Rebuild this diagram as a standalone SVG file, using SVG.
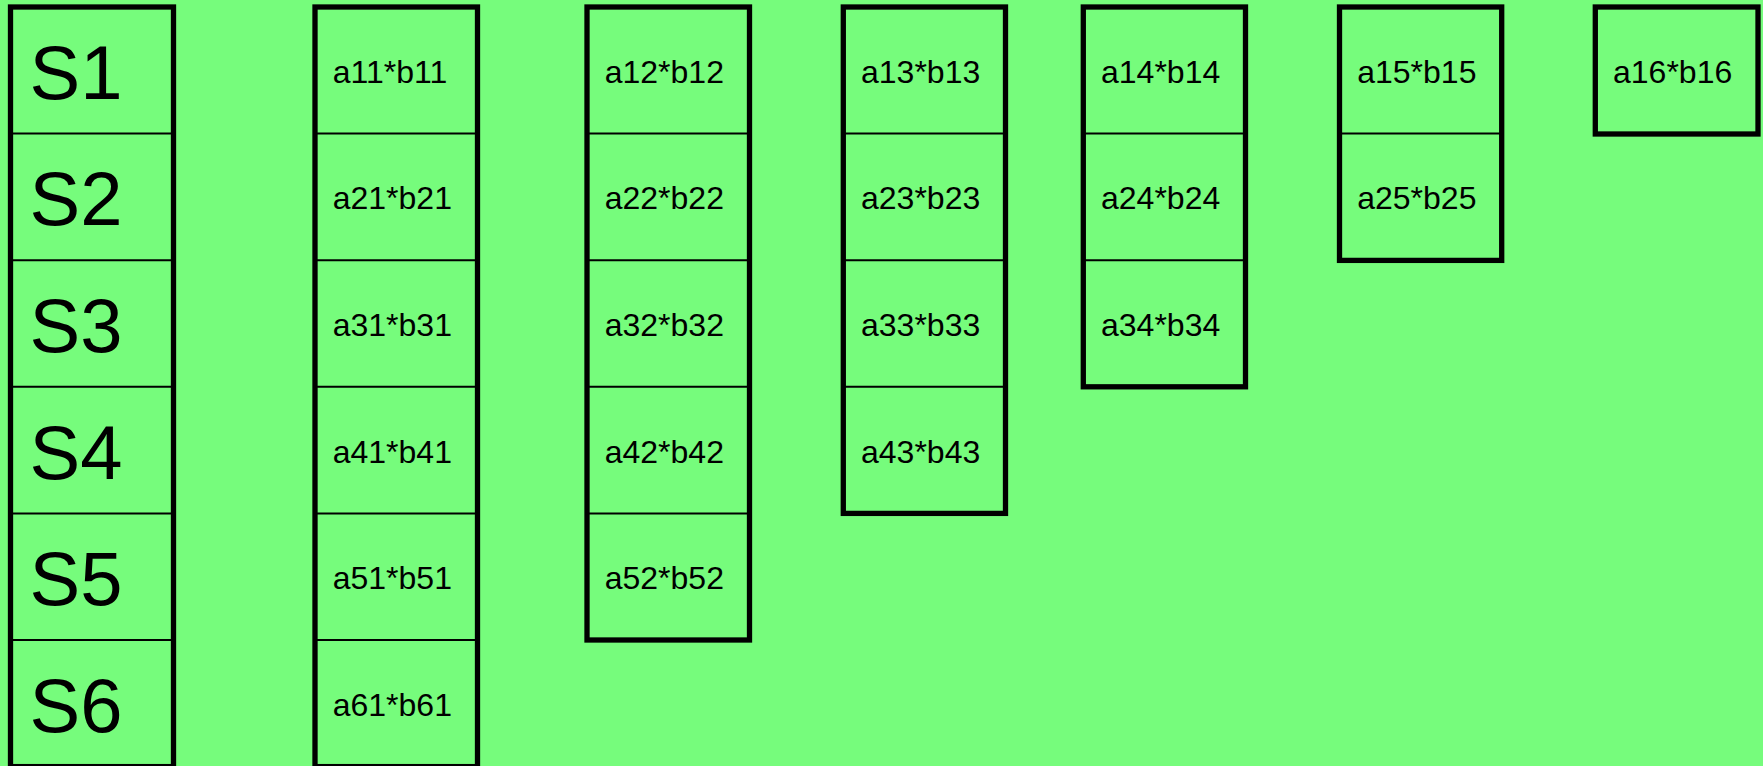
<svg xmlns="http://www.w3.org/2000/svg" width="1763" height="766" viewBox="0 0 1763 766">
<style>
.bg{fill:#76FC7C}
.box{fill:#76FC7C;stroke:#000;stroke-width:5.3}
.div{stroke:#000;stroke-width:2}
.s{font-family:"Liberation Sans",Arial,sans-serif;font-size:76px;fill:#000}
.t{font-family:"Liberation Sans",Arial,sans-serif;font-size:32px;fill:#000}
</style>
<rect class="bg" x="0" y="0" width="1763" height="766"/>
<g id="colS">
<rect class="box" x="10.5" y="7" width="163" height="759.6"/>
<line class="div" x1="10.5" y1="133.6" x2="173.5" y2="133.6"/>
<line class="div" x1="10.5" y1="260.2" x2="173.5" y2="260.2"/>
<line class="div" x1="10.5" y1="386.8" x2="173.5" y2="386.8"/>
<line class="div" x1="10.5" y1="513.4" x2="173.5" y2="513.4"/>
<line class="div" x1="10.5" y1="640" x2="173.5" y2="640"/>
<text class="s" x="29.5" y="98.7">S1</text>
<text class="s" x="29.5" y="225.3">S2</text>
<text class="s" x="29.5" y="351.9">S3</text>
<text class="s" x="29.5" y="478.5">S4</text>
<text class="s" x="29.5" y="605.1">S5</text>
<text class="s" x="29.5" y="731.7">S6</text>
</g>
<g id="col1">
<rect class="box" x="315" y="7" width="162.5" height="759.6"/>
<line class="div" x1="315" y1="133.6" x2="477.5" y2="133.6"/>
<line class="div" x1="315" y1="260.2" x2="477.5" y2="260.2"/>
<line class="div" x1="315" y1="386.8" x2="477.5" y2="386.8"/>
<line class="div" x1="315" y1="513.4" x2="477.5" y2="513.4"/>
<line class="div" x1="315" y1="640" x2="477.5" y2="640"/>
<text class="t" x="332.7" y="82.7">a11*b11</text>
<text class="t" x="332.7" y="209.3">a21*b21</text>
<text class="t" x="332.7" y="335.9">a31*b31</text>
<text class="t" x="332.7" y="462.5">a41*b41</text>
<text class="t" x="332.7" y="589.1">a51*b51</text>
<text class="t" x="332.7" y="715.7">a61*b61</text>
</g>
<g id="col2">
<rect class="box" x="587" y="7" width="162.5" height="633"/>
<line class="div" x1="587" y1="133.6" x2="749.5" y2="133.6"/>
<line class="div" x1="587" y1="260.2" x2="749.5" y2="260.2"/>
<line class="div" x1="587" y1="386.8" x2="749.5" y2="386.8"/>
<line class="div" x1="587" y1="513.4" x2="749.5" y2="513.4"/>
<text class="t" x="604.7" y="82.7">a12*b12</text>
<text class="t" x="604.7" y="209.3">a22*b22</text>
<text class="t" x="604.7" y="335.9">a32*b32</text>
<text class="t" x="604.7" y="462.5">a42*b42</text>
<text class="t" x="604.7" y="589.1">a52*b52</text>
</g>
<g id="col3">
<rect class="box" x="843.3" y="7" width="162.2" height="506.4"/>
<line class="div" x1="843.3" y1="133.6" x2="1005.5" y2="133.6"/>
<line class="div" x1="843.3" y1="260.2" x2="1005.5" y2="260.2"/>
<line class="div" x1="843.3" y1="386.8" x2="1005.5" y2="386.8"/>
<text class="t" x="861" y="82.7">a13*b13</text>
<text class="t" x="861" y="209.3">a23*b23</text>
<text class="t" x="861" y="335.9">a33*b33</text>
<text class="t" x="861" y="462.5">a43*b43</text>
</g>
<g id="col4">
<rect class="box" x="1083.3" y="7" width="162.2" height="379.8"/>
<line class="div" x1="1083.3" y1="133.6" x2="1245.5" y2="133.6"/>
<line class="div" x1="1083.3" y1="260.2" x2="1245.5" y2="260.2"/>
<text class="t" x="1101" y="82.7">a14*b14</text>
<text class="t" x="1101" y="209.3">a24*b24</text>
<text class="t" x="1101" y="335.9">a34*b34</text>
</g>
<g id="col5">
<rect class="box" x="1339.5" y="7" width="162.2" height="253.4"/>
<line class="div" x1="1339.5" y1="133.6" x2="1501.7" y2="133.6"/>
<text class="t" x="1357.2" y="82.7">a15*b15</text>
<text class="t" x="1357.2" y="209.3">a25*b25</text>
</g>
<g id="col6">
<rect class="box" x="1595.3" y="7" width="162.7" height="127"/>
<text class="t" x="1613" y="82.7">a16*b16</text>
</g>
<g id="connectors"/>
</svg>
